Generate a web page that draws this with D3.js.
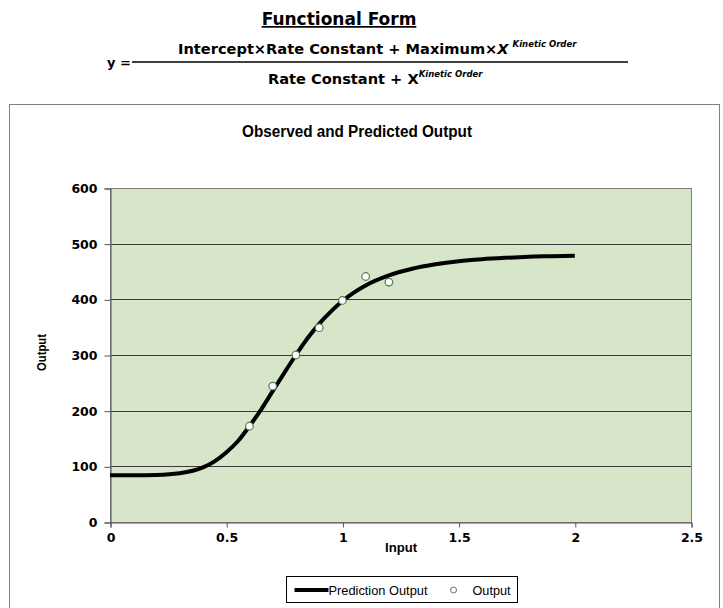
<!DOCTYPE html>
<html>
<head>
<meta charset="utf-8">
<script src="https://cdn.jsdelivr.net/npm/d3@7"></script>
<style>
  body { margin: 0; background: #fff; }
  svg text { fill: #000; }
  .narrow { font-family: "Liberation Sans", Arial, sans-serif; font-weight: bold; }
  .wide { font-family: "DejaVu Sans", Verdana, sans-serif; font-weight: bold; }
</style>
</head>
<body>
<div id="chart"></div>
<script>
// Data
var obsInput  = [0.6, 0.7, 0.8, 0.9, 1.0, 1.1, 1.2];
var obsOutput = [172, 244, 300, 349, 398, 441, 431];

// prediction curve
var predInput  = [0, 0.1, 0.2, 0.3, 0.4, 0.45, 0.5, 0.55, 0.6, 0.65, 0.7, 0.75, 0.8, 0.85, 0.9, 0.95, 1.0, 1.1, 1.2, 1.3, 1.4, 1.5, 1.6, 1.7, 1.8, 1.9, 2.0];
var predOutput = [84, 84, 84.5, 87.5, 98, 109, 125, 145, 172, 202, 235, 268, 300, 330, 356, 378, 397, 425, 443, 455, 463, 468.5, 472, 474.5, 476.5, 477.5, 478.5];

var xTicks = [0, 0.5, 1, 1.5, 2, 2.5];
var yTicks = [0, 100, 200, 300, 400, 500, 600];

var width = 723, height = 608;
var plot = { left: 110, right: 691, top: 188, bottom: 522 };

var svg = d3.select('#chart').append('svg')
    .attr('width', width)
    .attr('height', height);

// narrow text: squeeze to the width it has in the reference
function narrowText(sel, len) {
    return sel.attr('class', 'narrow')
        .attr('textLength', len)
        .attr('lengthAdjust', 'spacingAndGlyphs');
}

// Functional form header
svg.append('text')
    .attr('class', 'wide')
    .attr('x', 339).attr('y', 25)
    .attr('text-anchor', 'middle')
    .style('font-size', '17px')
    .style('text-decoration', 'underline')
    .text('Functional Form');

svg.append('text')
    .attr('class', 'wide')
    .attr('x', 107).attr('y', 67)
    .style('font-size', '13px')
    .text('y =');

svg.append('line')
    .attr('x1', 132).attr('x2', 628)
    .attr('y1', 62).attr('y2', 62)
    .attr('stroke', '#000').attr('stroke-width', 1.5);

var num = svg.append('text')
    .attr('class', 'wide')
    .attr('x', 178).attr('y', 54)
    .style('font-size', '14.6px');
num.append('tspan').text('Intercept×Rate Constant + Maximum×');
num.append('tspan').style('font-style', 'italic').text('X');
num.append('tspan').attr('dx', 4).attr('dy', -7).style('font-style', 'italic').style('font-size', '8.5px').text('Kinetic Order');

var den = svg.append('text')
    .attr('class', 'wide')
    .attr('x', 268).attr('y', 84)
    .style('font-size', '14.6px');
den.append('tspan').text('Rate Constant + X');
den.append('tspan').attr('dy', -7).style('font-style', 'italic').style('font-size', '8.5px').text('Kinetic Order');

// Chart frame
svg.append('rect')
    .attr('x', 9.5).attr('y', 104.5)
    .attr('width', 710).attr('height', 520)
    .attr('fill', '#fff')
    .attr('stroke', '#808080');

narrowText(svg.append('text'), 230)
    .attr('x', 242).attr('y', 137)
    .style('font-size', '16px')
    .text('Observed and Predicted Output');

// Scales
var x = d3.scaleLinear().domain([0, 2.5]).range([plot.left, plot.right]);
var y = d3.scaleLinear().domain([0, 600]).range([plot.bottom, plot.top]);

svg.append('rect')
    .attr('x', plot.left).attr('y', plot.top)
    .attr('width', plot.right - plot.left)
    .attr('height', plot.bottom - plot.top)
    .attr('fill', '#d7e5c9');

// gridlines
svg.append('g')
    .selectAll('line')
    .data(yTicks.slice(1))
    .enter().append('line')
    .attr('x1', plot.left).attr('x2', plot.right)
    .attr('y1', d => Math.round(y(d)) + 0.5)
    .attr('y2', d => Math.round(y(d)) + 0.5)
    .attr('stroke', '#3a3a3a');

svg.append('rect')
    .attr('x', plot.left + 0.5).attr('y', plot.top + 0.5)
    .attr('width', plot.right - plot.left)
    .attr('height', plot.bottom - plot.top)
    .attr('fill', 'none')
    .attr('stroke', '#808080');

// Axes
var yAxis = d3.axisLeft(y).tickValues(yTicks).tickSize(6).tickPadding(7).tickFormat(d3.format('d'));
svg.append('g')
    .attr('id', 'y-axis')
    .attr('transform', 'translate(' + (plot.left + 0.5) + ',0.5)')
    .call(yAxis)
    .call(g => g.selectAll('path, line').attr('stroke', '#555'))
    .call(g => g.selectAll('text').attr('class', 'wide').style('font-size', '12.5px').attr('fill', '#000'));

var xAxis = d3.axisBottom(x).tickValues(xTicks).tickSize(5).tickPadding(6).tickFormat(d => String(d));
svg.append('g')
    .attr('id', 'x-axis')
    .attr('transform', 'translate(0.5,' + (plot.bottom + 0.5) + ')')
    .call(xAxis)
    .call(g => g.selectAll('path, line').attr('stroke', '#555'))
    .call(g => g.selectAll('text').attr('class', 'wide').style('font-size', '12.5px').attr('fill', '#000'));

narrowText(svg.append('text'), 32)
    .attr('x', 385).attr('y', 552)
    .style('font-size', '13px')
    .text('Input');

narrowText(svg.append('text'), 37)
    .attr('transform', 'translate(46,371) rotate(-90)')
    .style('font-size', '13px')
    .text('Output');

// Prediction curve
var line = d3.line()
    .x(d => x(d[0]))
    .y(d => y(d[1]))
    .curve(d3.curveMonotoneX);

svg.append('path')
    .datum(predInput.map((v, i) => [v, predOutput[i]]))
    .attr('d', line)
    .attr('fill', 'none')
    .attr('stroke', '#000')
    .attr('stroke-width', 4);

// Observed points
svg.selectAll('circle.obs')
    .data(obsInput.map((v, i) => [v, obsOutput[i]]))
    .enter().append('circle')
    .attr('class', 'obs')
    .attr('cx', d => x(d[0]))
    .attr('cy', d => y(d[1]))
    .attr('r', 3.8)
    .attr('fill', '#fff')
    .attr('stroke', '#4f7f4f')
    .attr('stroke-width', 1.2);

// Legend
var lg = svg.append('g').attr('transform', 'translate(286.5,576.5)');
lg.append('rect')
    .attr('width', 231).attr('height', 26)
    .attr('fill', '#fff').attr('stroke', '#000');
lg.append('line')
    .attr('x1', 8).attr('x2', 42).attr('y1', 13.5).attr('y2', 13.5)
    .attr('stroke', '#000').attr('stroke-width', 4);
narrowText(lg.append('text'), 99)
    .attr('x', 42).attr('y', 18)
    .style('font-size', '13px').style('font-weight', 'normal')
    .text('Prediction Output');
lg.append('circle')
    .attr('cx', 167).attr('cy', 13.5).attr('r', 3)
    .attr('fill', '#fff').attr('stroke', '#4f7f4f');
narrowText(lg.append('text'), 38)
    .attr('x', 186).attr('y', 18)
    .style('font-size', '13px').style('font-weight', 'normal')
    .text('Output');
</script>
</body>
</html>
